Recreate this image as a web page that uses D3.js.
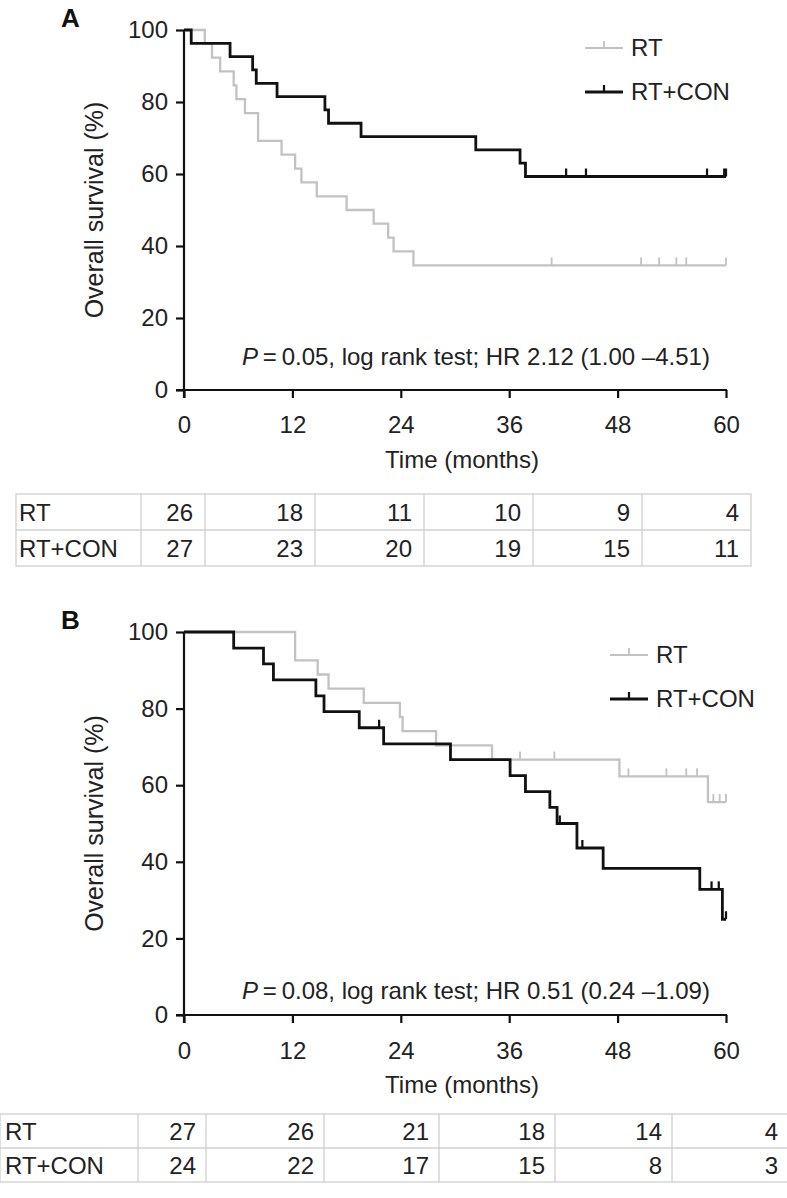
<!DOCTYPE html>
<html><head><meta charset="utf-8">
<script src="https://cdn.jsdelivr.net/npm/d3@7"></script>
<style>
html,body{margin:0;padding:0;background:#fff;}
svg{display:block;font-family:"Liberation Sans",Arial,Helvetica,sans-serif;}
</style></head>
<body>
<script>
// ---------------- DATA ----------------
const timeTicks = [0, 12, 24, 36, 48, 60];
const survTicks = [0, 20, 40, 60, 80, 100];
const groups = ["RT", "RT+CON"];

// Panel A
const aRtTimes   = [0, 2.3, 3.1, 4.0, 5.5, 5.8, 6.75, 8.2, 10.8, 12.3, 13.0, 14.7, 18.0, 21.0, 22.6, 23.2, 25.4, 60];
const aRtSurv    = [100, 96.2, 92.3, 88.5, 84.6, 80.8, 76.9, 69.2, 65.4, 61.5, 57.7, 53.8, 50.0, 46.2, 42.3, 38.5, 34.6, 34.6];
const aRtCensor  = [40.7, 50.6, 52.6, 54.5, 55.6, 60];
const aConTimes  = [0, 0.8, 5.1, 7.6, 8.0, 10.3, 15.6, 16.0, 19.6, 32.3, 37.2, 37.8, 60];
const aConSurv   = [100, 96.3, 92.6, 88.9, 85.2, 81.5, 77.8, 74.1, 70.4, 66.7, 63.0, 59.3, 59.3];
const aConCensor = [42.3, 44.5, 57.9, 59.8, 60];
const aRiskRt    = [26, 18, 11, 10, 9, 4];
const aRiskCon   = [27, 23, 20, 19, 15, 11];
const aStat = ["P", "\u2009=\u20090.05, log rank test; HR 2.12 (1.00 \u20134.51)"];

// Panel B
const bRtTimes   = [0, 12.3, 14.8, 16.0, 19.9, 23.9, 24.2, 27.9, 34.1, 48.2, 58.0, 60];
const bRtSurv    = [100, 92.6, 88.9, 85.2, 81.5, 77.8, 74.1, 70.4, 66.7, 62.3, 55.6, 55.6];
const bRtCensor  = [37.2, 41.0, 49.2, 53.4, 55.6, 56.8, 58.6, 59.3, 60];
const bConTimes  = [0, 5.5, 8.8, 9.9, 14.6, 15.5, 19.4, 22.1, 29.5, 36.1, 37.8, 40.5, 41.3, 43.5, 46.4, 57.1, 59.6, 60];
const bConSurv   = [100, 95.8, 91.7, 87.5, 83.3, 79.2, 75.0, 70.8, 66.7, 62.5, 58.3, 54.2, 50.0, 43.6, 38.3, 32.8, 25.0, 25.0];
const bConCensor = [21.6, 41.6, 44.1, 58.4, 59.2, 60];
const bRiskRt    = [27, 26, 21, 18, 14, 4];
const bRiskCon   = [24, 22, 17, 15, 8, 3];
const bStat = ["P", "\u2009=\u20090.08, log rank test; HR 0.51 (0.24 \u20131.09)"];

// ---------------- LAYOUT ----------------
const W = 787, H = 1198;
const GREY = "#c2c2c2", BLACK = "#111", INK = "#222";
const FS = 24;
const svg = d3.select("body").append("svg").attr("width", W).attr("height", H);

function panel(cfg) {
  const x = d3.scaleLinear().domain([0, 60]).range([cfg.x0, cfg.x1]);
  const y = d3.scaleLinear().domain([0, 100]).range([cfg.yb, cfg.yt]);
  const g = svg.append("g");

  g.append("text").attr("x", 61).attr("y", cfg.yt - 3).attr("font-size", 26).attr("font-weight", "bold")
    .attr("fill", BLACK).text(cfg.letter);

  const ax = g.append("g").attr("transform", `translate(0,${cfg.yb})`)
    .call(d3.axisBottom(x).tickValues(timeTicks).tickSize(8).tickPadding(cfg.xPad).tickSizeOuter(0));
  const ay = g.append("g").attr("transform", `translate(${cfg.x0},0)`)
    .call(d3.axisLeft(y).tickValues(survTicks).tickSize(8).tickPadding(8).tickSizeOuter(0));
  [ax, ay].forEach(a => {
    a.select(".domain").attr("stroke", BLACK).attr("stroke-width", 2.2);
    a.selectAll(".tick line").attr("stroke", BLACK).attr("stroke-width", 2.2);
    a.selectAll(".tick text").attr("font-size", FS).attr("fill", INK)
      .attr("font-family", "Liberation Sans, Arial, sans-serif");
  });
  ax.select(".domain").attr("d", `M${cfg.x0 - 8},0H${cfg.x1 + 1}`);
  ay.select(".domain").attr("d", `M0,${cfg.yb + 8}V${cfg.yt}`);

  g.append("text").attr("x", (cfg.x0 + cfg.x1) / 2 + 7).attr("y", cfg.yb + 78).attr("text-anchor", "middle")
    .attr("font-size", FS).attr("fill", INK).text("Time (months)");
  g.append("text").attr("transform", `translate(103,${(cfg.yt + cfg.yb) / 2}) rotate(-90)`)
    .attr("text-anchor", "middle").attr("font-size", 25).attr("fill", INK).text("Overall survival (%)");

  const line = d3.line().x(d => x(d[0])).y(d => y(d[1])).curve(d3.curveStepAfter);
  const series = [
    {t: cfg.rtT, s: cfg.rtS, c: cfg.rtC, col: GREY, w: 2.3},
    {t: cfg.conT, s: cfg.conS, c: cfg.conC, col: BLACK, w: 2.8}
  ];
  series.forEach(sr => {
    const pts = sr.t.map((t, i) => [t, sr.s[i]]);
    g.append("path").attr("d", line(pts)).attr("fill", "none").attr("stroke", sr.col).attr("stroke-width", sr.w);
    const survAt = t => { let v = sr.s[0]; sr.t.forEach((tt, i) => { if (tt <= t) v = sr.s[i]; }); return v; };
    g.selectAll(null).data(sr.c).join("line")
      .attr("x1", d => x(d)).attr("x2", d => x(d))
      .attr("y1", d => y(survAt(d))).attr("y2", d => y(survAt(d)) - 8)
      .attr("stroke", sr.col).attr("stroke-width", sr.w * 0.8);
  });

  const lg = g.append("g");
  groups.forEach((name, i) => {
    const col = i === 0 ? GREY : BLACK, w = i === 0 ? 2.2 : 2.8;
    const ly = cfg.legY + i * 44;
    lg.append("line").attr("x1", cfg.legX).attr("x2", cfg.legX + 38).attr("y1", ly).attr("y2", ly)
      .attr("stroke", col).attr("stroke-width", w);
    lg.append("line").attr("x1", cfg.legX + 19).attr("x2", cfg.legX + 19).attr("y1", ly).attr("y2", ly - 7)
      .attr("stroke", col).attr("stroke-width", w * 0.8);
    lg.append("text").attr("x", cfg.legX + 46).attr("y", ly + 8).attr("font-size", FS).attr("fill", INK).text(name);
  });

  const st = g.append("text").attr("x", cfg.statX).attr("y", cfg.statY).attr("font-size", FS).attr("fill", INK);
  st.append("tspan").attr("font-style", "italic").text(cfg.stat[0]);
  st.append("tspan").text(cfg.stat[1]);

  const tb = cfg.table;
  const tg = g.append("g");
  const rows = [cfg.riskRt, cfg.riskCon];
  const rowH = tb.rowH, bc = "#d0d0d0";
  tg.append("rect").attr("x", tb.left).attr("y", tb.top).attr("width", tb.right - tb.left).attr("height", rowH * 2)
    .attr("fill", "none").attr("stroke", bc).attr("stroke-width", 1.3);
  tg.append("line").attr("x1", tb.left).attr("x2", tb.right).attr("y1", tb.top + rowH).attr("y2", tb.top + rowH)
    .attr("stroke", bc).attr("stroke-width", 1.3);
  tb.cols.forEach(cx => tg.append("line").attr("x1", cx).attr("x2", cx).attr("y1", tb.top).attr("y2", tb.top + 2 * rowH)
    .attr("stroke", bc).attr("stroke-width", 1.3));
  const edges = tb.cols.slice(1).concat([tb.right]);
  rows.forEach((vals, r) => {
    const cy = tb.top + rowH * r + rowH / 2 + 8.5;
    tg.append("text").attr("x", tb.labelX).attr("y", cy).attr("font-size", FS).attr("fill", INK).text(groups[r]);
    vals.forEach((v, i) => {
      tg.append("text").attr("x", edges[i] - tb.pad).attr("y", cy).attr("text-anchor", "end")
        .attr("font-size", FS).attr("fill", INK).text(v);
    });
  });
}

panel({
  letter: "A", x0: 184, x1: 726, yt: 30, yb: 390, xPad: 18,
  rtT: aRtTimes, rtS: aRtSurv, rtC: aRtCensor, conT: aConTimes, conS: aConSurv, conC: aConCensor,
  legX: 585, legY: 48, stat: aStat, statX: 242, statY: 365,
  riskRt: aRiskRt, riskCon: aRiskCon,
  table: {left: 16, right: 751, top: 494, rowH: 36, labelX: 19, pad: 12, cols: [141, 205, 315, 424, 533, 642]}
});
panel({
  letter: "B", x0: 184, x1: 726, yt: 632, yb: 1015, xPad: 19,
  rtT: bRtTimes, rtS: bRtSurv, rtC: bRtCensor, conT: bConTimes, conS: bConSurv, conC: bConCensor,
  legX: 610, legY: 655, stat: bStat, statX: 242, statY: 999,
  riskRt: bRiskRt, riskCon: bRiskCon,
  table: {left: 0, right: 788, top: 1114, rowH: 34, labelX: 5, pad: 10, cols: [138, 206, 324, 439, 555, 672]}
});
</script>
</body></html>
